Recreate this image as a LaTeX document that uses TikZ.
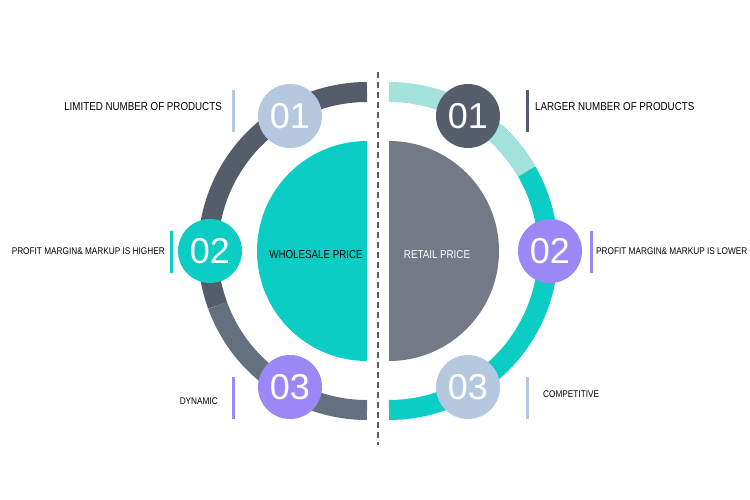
\documentclass[tikz,border=0pt]{standalone}
\usepackage{fontspec}
\setmainfont{Liberation Sans}
\definecolor{darkslate}{HTML}{555C6A}
\definecolor{greyblue}{HTML}{65707F}
\definecolor{aqua}{HTML}{0BCDC4}
\definecolor{lightaqua}{HTML}{A3E2DA}
\definecolor{paleblue}{HTML}{B5C8E0}
\definecolor{violet}{HTML}{9B87F5}
\definecolor{slategrey}{HTML}{737A85}
\tikzset{
    numdisc/.style={circle, minimum size=64pt, inner sep=0pt, text=white, font=\fontsize{36}{36}\selectfont},
    txt/.style={font=\fontsize{11.5}{12}\selectfont\addfontfeature{FakeStretch=0.85}, inner sep=0pt},
    smalltxt/.style={txt, font=\fontsize{9.7}{11}\selectfont\addfontfeature{FakeStretch=0.85}},
    tick/.style={line width=3pt},
    ring/.style={line width=20pt}
}
\begin{document}
\begin{tikzpicture}[x=1pt,y=-1pt]
    \useasboundingbox (0,0) rectangle (750,500);
    % rings
    \draw[ring, darkslate] (367,92) arc[start angle=-90, end angle=-200, radius=159];
    \draw[ring, greyblue] ([shift={(-200:159)}]367,251) arc[start angle=-200, end angle=-270, radius=159];
    \draw[ring, aqua] ([shift={(-60:159)}]389,251) arc[start angle=-60, end angle=90, radius=159];
    \draw[ring, lightaqua] (389,92) arc[start angle=-90, end angle=-30, radius=159];
    % half discs
    \fill[aqua] (367,141) arc[start angle=-90, end angle=-270, radius=110] -- cycle;
    \fill[slategrey] (389,141) arc[start angle=-90, end angle=90, radius=110] -- cycle;
    \node[txt] (wholesale) at (316,255) {WHOLESALE PRICE};
    \node[txt, text=white] (retail) at (437,255) {RETAIL PRICE};
    % divider
    \draw[darkslate, dash pattern=on 6pt off 4pt, line width=1.5pt] (378,72) -- (378,445);
    % number discs
    \node[numdisc, fill=paleblue] (l1) at (290,116) {01};
    \node[numdisc, fill=aqua] (l2) at (210,251) {02};
    \node[numdisc, fill=violet] (l3) at (290,387) {03};
    \node[numdisc, fill=darkslate] (r1) at (468,116) {01};
    \node[numdisc, fill=violet] (r2) at (550,251) {02};
    \node[numdisc, fill=paleblue] (r3) at (468,387) {03};
    % ticks
    \draw[tick, paleblue] (233,90) -- (233,132);
    \draw[tick, aqua] (171,231) -- (171,273);
    \draw[tick, violet] (233,377) -- (233,419);
    \draw[tick, darkslate] (527,90) -- (527,132);
    \draw[tick, violet] (591,231) -- (591,273);
    \draw[tick, paleblue] (527,377) -- (527,419);
    % labels
    \node[txt, anchor=east] (t1) at (222,107) {LIMITED NUMBER OF PRODUCTS};
    \node[smalltxt, anchor=east] (t2) at (165,251) {PROFIT MARGIN\& MARKUP IS HIGHER};
    \node[smalltxt, anchor=east] (t3) at (218,401) {DYNAMIC};
    \node[txt, anchor=west] (u1) at (535,107) {LARGER NUMBER OF PRODUCTS};
    \node[smalltxt, anchor=west] (u2) at (596,251) {PROFIT MARGIN\& MARKUP IS LOWER};
    \node[smalltxt, anchor=west] (u3) at (543,394) {COMPETITIVE};
\end{tikzpicture}
\end{document}
